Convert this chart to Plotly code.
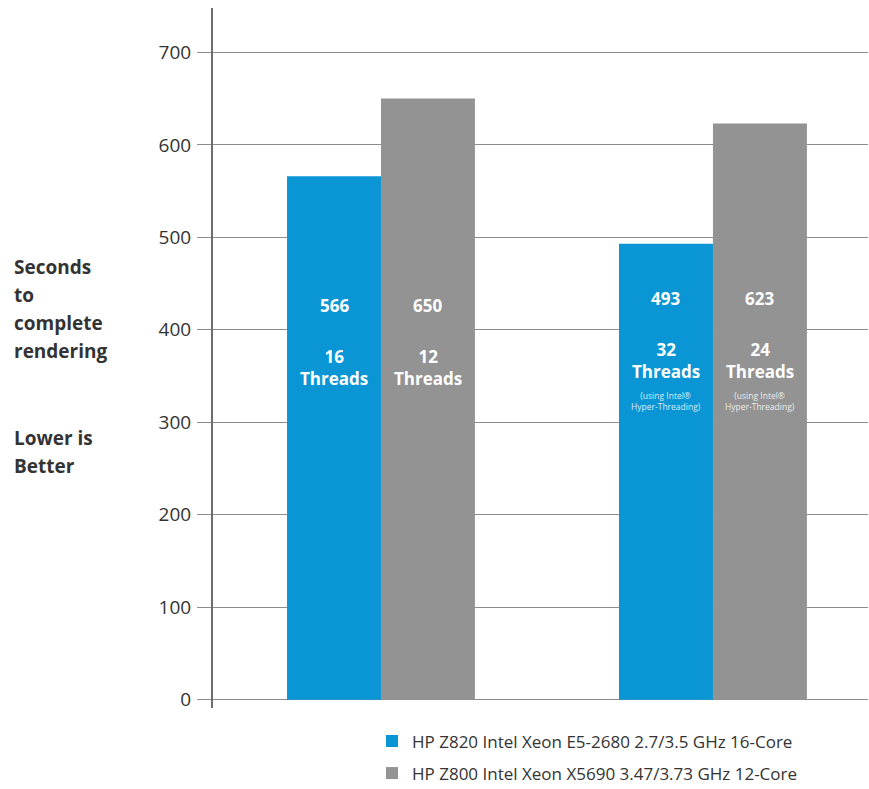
import plotly.graph_objects as go

groups = [0, 1]
z820_seconds = [566, 493]
z800_seconds = [650, 623]
z820_threads = ["16", "32"]
z800_threads = ["12", "24"]
ht_note = [False, True]
series_names = ["HP Z820 Intel Xeon E5-2680 2.7/3.5 GHz 16-Core",
                "HP Z800 Intel Xeon X5690 3.47/3.73 GHz 12-Core"]
y_ticks = [0, 100, 200, 300, 400, 500, 600, 700]
side_lines = ["Seconds", "to", "complete", "rendering", "Lower is", "Better"]
side_line_px = [267, 295, 323, 351, 438, 466]

BLUE = "#0A96D4"
GRAY = "#939393"
FONT = "Open Sans"

fig = go.Figure()
fig.add_trace(go.Bar(x=groups, y=z820_seconds, name=series_names[0], legendgroup="a",
                     marker=dict(color=BLUE, line=dict(width=0))))
fig.add_trace(go.Bar(x=groups, y=z800_seconds, name=series_names[1], legendgroup="b",
                     marker=dict(color=GRAY, line=dict(width=0))))

off = 0.1415
ann = []
for g, v1, v2, t1, t2, ht in zip(groups, z820_seconds, z800_seconds,
                                 z820_threads, z800_threads, ht_note):
    for xx, v, t in ((g - off, v1, t1), (g + off, v2, t2)):
        if ht:
            yv, yt = 434, 367
        else:
            yv, yt = 426, 359
        ann.append(dict(x=xx, y=yv, xref="x", yref="y", text=f"<b>{v}</b>",
                        showarrow=False, font=dict(family=FONT, size=17, color="white")))
        ann.append(dict(x=xx, y=yt, xref="x", yref="y", text=f"<b>{t}<br>Threads</b>",
                        showarrow=False, font=dict(family=FONT, size=17, color="white")))
        if ht:
            ann.append(dict(x=xx, y=323, xref="x", yref="y",
                            text="(using Intel®<br>Hyper-Threading)",
                            showarrow=False,
                            font=dict(family=FONT, size=8.5, color="rgba(255,255,255,0.85)")))

left_x = (12 - 213) / 655
for line, py in zip(side_lines, side_line_px):
    ann.append(dict(x=left_x, y=(708 - py) / 700, xref="paper", yref="paper",
                    xanchor="left", yanchor="middle", align="left", showarrow=False,
                    text=f"<b>{line}</b>",
                    font=dict(family=FONT, size=19, color="#333333")))

fig.update_layout(
    width=869, height=789,
    margin=dict(l=213, r=1, t=8, b=81, autoexpand=False),
    paper_bgcolor="white", plot_bgcolor="white",
    barmode="group", bargap=0.434, bargroupgap=0,
    showlegend=True,
    legend=dict(x=(372 - 213) / 655, y=-0.022, xanchor="left", yanchor="top",
                orientation="v", font=dict(family=FONT, size=17, color="#333333"),
                tracegroupgap=7, itemwidth=30),
    xaxis=dict(range=[-0.506, 1.467], showticklabels=False, showgrid=False,
               zeroline=False, showline=False, ticks=""),
    yaxis=dict(range=[-9, 748], tickvals=y_ticks, showgrid=True,
               gridcolor="#8c8c8c", gridwidth=1, zeroline=False,
               showline=True, linecolor="#6e6e6e", linewidth=2,
               ticks="outside", ticklen=14, tickcolor="#8c8c8c", tickwidth=1,
               ticklabelstandoff=2,
               tickfont=dict(family=FONT, size=19, color="#333333")),
    annotations=ann,
)
fig.write_html("out.html")
